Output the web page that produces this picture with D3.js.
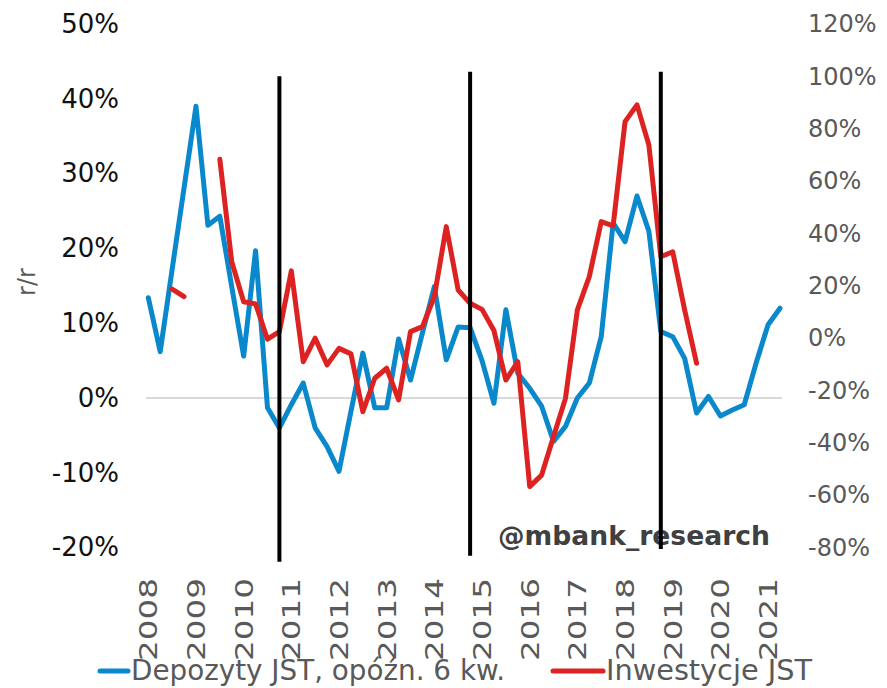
<!DOCTYPE html>
<html lang="pl">
<head>
  <meta charset="UTF-8">
  <title>Depozyty i inwestycje JST</title>
  <script src="https://d3js.org/d3.v7.min.js"></script>
  <style>
    body { margin: 0; background: #fff; }
    text { font-family: "DejaVu Sans", Verdana, sans-serif; }
    .line { fill: none; stroke-width: 5px; stroke-linejoin: round; stroke-linecap: round; }
  </style>
</head>
<body>
  <svg width="887" height="688"></svg>
  <script>
// quarterly data, 2008Q1 - 2021Q2
const years = [2008, 2009, 2010, 2011, 2012, 2013, 2014, 2015, 2016, 2017, 2018, 2019, 2020, 2021];

// Depozyty JST, opóźn. 6 kw. (lewa oś, % r/r)
const depozyty = [
  13.4, 6.2, 17.2, 28.1, 39.0, 23.1, 24.3, 14.9,
  5.6, 19.7, -1.3, -4.0, -0.9, 2.0, -4.0, -6.5,
  -9.8, -1.8, 6.0, -1.3, -1.3, 7.9, 2.4, 8.7,
  14.9, 5.1, 9.5, 9.4, 5.0, -0.7, 11.8, 3.3,
  1.3, -1.1, -5.8, -3.8, 0.0, 2.0, 8.2, 23.4,
  20.9, 27.0, 22.3, 8.9, 8.2, 5.3, -2.0, 0.2,
  -2.4, -1.6, -0.9, 4.7, 9.8, 12.0
];

// Inwestycje JST (prawa oś, % r/r)
const inwestycje = [
  null, null, 18.7, 15.9, null, null, 68.3, 29.2,
  13.9, 13.1, -0.4, 2.5, 25.7, -9.0, 0.0, -10.2,
  -3.9, -6.0, -28.1, -15.3, -11.5, -23.6, 2.5, 4.4,
  15.9, 42.6, 18.4, 13.3, 11.0, 2.9, -16.0, -9.0,
  -56.7, -52.3, -37.6, -23.0, 10.8, 23.5, 44.5, 42.9,
  82.7, 89.1, 73.8, 31.1, 33.0, 10.8, -9.6, null,
  null, null, null, null, null, null
];

const leftTicks = [-20, -10, 0, 10, 20, 30, 40, 50];
const rightTicks = [-80, -60, -40, -20, 0, 20, 40, 60, 80, 100, 120];

// pionowe linie (indeks kwartału, zakres w jednostkach lewej osi)
const breaks = [
  { q: 11, top: 43.0, bottom: -21.9 },
  { q: 27, top: 43.6, bottom: -21.1 },
  { q: 43, top: 43.6, bottom: -20.2 }
];

const seriesNames = ["Depozyty JST, opóźn. 6 kw.", "Inwestycje JST"];
const colors = ["#0a88cc", "#dd2222"];

const svg = d3.select("svg");

const x = d3.scaleLinear().domain([0, depozyty.length - 1]).range([148.3, 780]);
const yL = d3.scaleLinear().domain([-20, 50]).range([547.6, 24]);
const yR = d3.scaleLinear().domain([-80, 120]).range([547.6, 24]);

// zero line
svg.append("line")
  .attr("x1", 146).attr("x2", 782)
  .attr("y1", yL(0)).attr("y2", yL(0))
  .attr("stroke", "#d9d9d9").attr("stroke-width", 2);

// left axis
const leftAxis = svg.append("g")
  .attr("transform", "translate(119,0)")
  .call(d3.axisLeft(yL).tickValues(leftTicks).tickSize(0).tickPadding(0).tickFormat(d => d + "%"));
leftAxis.select(".domain").remove();
leftAxis.selectAll("text")
  .attr("fill", "#111")
  .style("font-size", "26px")
  .style("font-family", "'DejaVu Sans', Verdana, sans-serif");

// right axis
const rightAxis = svg.append("g")
  .attr("transform", "translate(808,0)")
  .call(d3.axisRight(yR).tickValues(rightTicks).tickSize(0).tickPadding(0).tickFormat(d => d + "%"));
rightAxis.select(".domain").remove();
rightAxis.selectAll("text")
  .attr("fill", "#595959")
  .style("font-size", "24px")
  .style("font-family", "'DejaVu Sans', Verdana, sans-serif");

// year labels
svg.append("g")
  .selectAll("text")
  .data(years)
  .join("text")
  .attr("transform", d => `translate(${x((d - years[0]) * 4)},578) rotate(-90)`)
  .attr("text-anchor", "end")
  .attr("dy", "0.36em")
  .attr("fill", "#595959")
  .attr("textLength", 83)
  .attr("lengthAdjust", "spacingAndGlyphs")
  .style("font-size", "25px")
  .text(d => d);

// axis title
svg.append("text")
  .attr("transform", "translate(26,282) rotate(-90)")
  .attr("text-anchor", "middle")
  .attr("dy", "0.36em")
  .attr("fill", "#595959")
  .style("font-size", "24px")
  .text("r/r");

// watermark
svg.append("text")
  .attr("x", 498).attr("y", 545)
  .attr("fill", "#404040")
  .attr("font-weight", "bold")
  .attr("textLength", 272)
  .attr("lengthAdjust", "spacingAndGlyphs")
  .style("font-size", "26px")
  .text("@mbank_research");

// series lines
const lineL = d3.line()
  .defined(d => d != null)
  .x((d, i) => x(i))
  .y(d => yL(d));
const lineR = d3.line()
  .defined(d => d != null)
  .x((d, i) => x(i))
  .y(d => yR(d));

svg.append("path").attr("class", "line")
  .attr("stroke", colors[0]).attr("d", lineL(depozyty));
svg.append("path").attr("class", "line")
  .attr("stroke", colors[1]).attr("d", lineR(inwestycje));

// vertical markers
svg.append("g")
  .selectAll("line")
  .data(breaks)
  .join("line")
  .attr("x1", d => x(d.q)).attr("x2", d => x(d.q))
  .attr("y1", d => yL(d.top)).attr("y2", d => yL(d.bottom))
  .attr("stroke", "#000").attr("stroke-width", 4);

// legend
const legend = [
  { name: seriesNames[0], color: colors[0], x1: 100, x2: 128, tx: 131, len: 374 },
  { name: seriesNames[1], color: colors[1], x1: 553, x2: 603, tx: 606, len: 206 }
];
const lg = svg.append("g");
lg.selectAll("line")
  .data(legend)
  .join("line")
  .attr("x1", d => d.x1).attr("x2", d => d.x2)
  .attr("y1", 671).attr("y2", 671)
  .attr("stroke", d => d.color).attr("stroke-width", 5)
  .attr("stroke-linecap", "round");
lg.selectAll("text")
  .data(legend)
  .join("text")
  .attr("x", d => d.tx).attr("y", 680)
  .attr("fill", "#595959")
  .attr("textLength", d => d.len)
  .attr("lengthAdjust", "spacingAndGlyphs")
  .style("font-size", "28px")
  .text(d => d.name);
  </script>
</body>
</html>
